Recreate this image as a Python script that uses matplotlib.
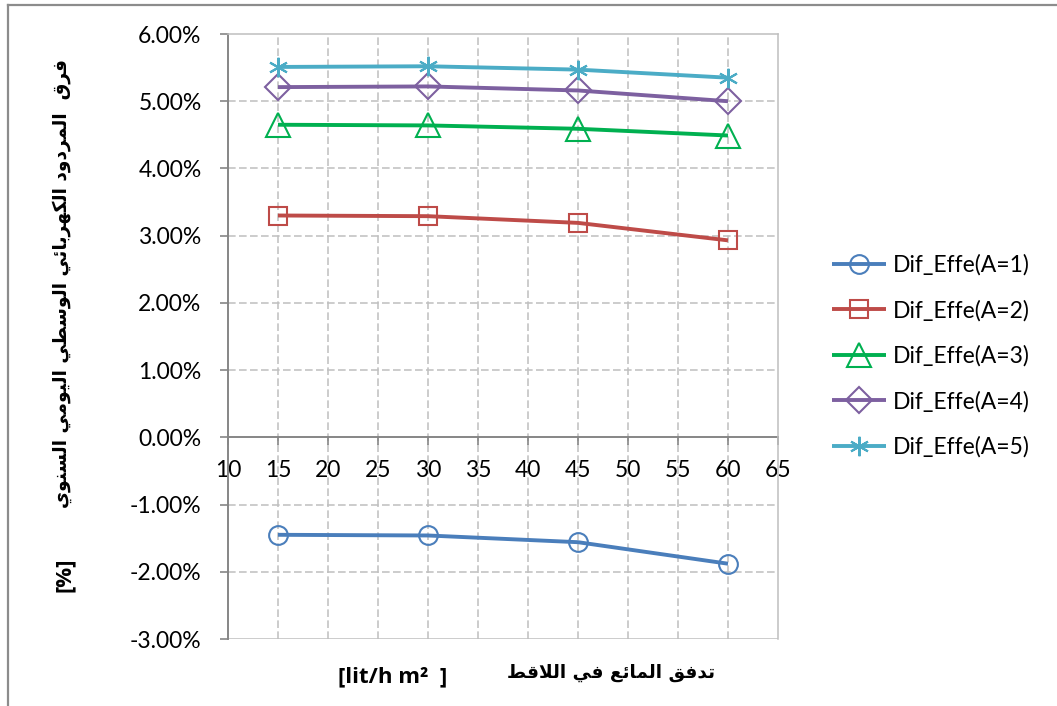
import matplotlib
matplotlib.use("Agg")
import matplotlib.pyplot as plt
from matplotlib.lines import Line2D
from matplotlib.ticker import FuncFormatter

# ---- data -------------------------------------------------------------
flow = [15, 30, 45, 60]
series_labels = ["Dif_Effe(A=1)", "Dif_Effe(A=2)", "Dif_Effe(A=3)",
                 "Dif_Effe(A=4)", "Dif_Effe(A=5)"]
dif_a1 = [-1.45, -1.46, -1.56, -1.88]
dif_a2 = [3.30, 3.29, 3.19, 2.93]
dif_a3 = [4.65, 4.64, 4.59, 4.49]
dif_a4 = [5.21, 5.22, 5.16, 5.00]
dif_a5 = [5.51, 5.52, 5.47, 5.35]
x_ticks = [10, 15, 20, 25, 30, 35, 40, 45, 50, 55, 60, 65]
y_ticks = [-3, -2, -1, 0, 1, 2, 3, 4, 5, 6]

y_title_ar = "فرق  المردود الكهربائي الوسطي اليومي السنوي"
y_title_unit = "[%]"
x_title_ar = "تدفق المائع في اللاقط"
x_title_unit = "[lit/h m²  ]"

# ---- minimal Arabic shaping (presentation forms, visual order) --------
_FORMS = {
    'ا': ('\uFE8D', '\uFE8E', None, None),
    'ب': ('\uFE8F', '\uFE90', '\uFE91', '\uFE92'),
    'ت': ('\uFE95', '\uFE96', '\uFE97', '\uFE98'),
    'د': ('\uFEA9', '\uFEAA', None, None),
    'ر': ('\uFEAD', '\uFEAE', None, None),
    'س': ('\uFEB1', '\uFEB2', '\uFEB3', '\uFEB4'),
    'ط': ('\uFEC1', '\uFEC2', '\uFEC3', '\uFEC4'),
    'ع': ('\uFEC9', '\uFECA', '\uFECB', '\uFECC'),
    'ف': ('\uFED1', '\uFED2', '\uFED3', '\uFED4'),
    'ق': ('\uFED5', '\uFED6', '\uFED7', '\uFED8'),
    'ك': ('\uFED9', '\uFEDA', '\uFEDB', '\uFEDC'),
    'ل': ('\uFEDD', '\uFEDE', '\uFEDF', '\uFEE0'),
    'م': ('\uFEE1', '\uFEE2', '\uFEE3', '\uFEE4'),
    'ن': ('\uFEE5', '\uFEE6', '\uFEE7', '\uFEE8'),
    'ه': ('\uFEE9', '\uFEEA', '\uFEEB', '\uFEEC'),
    'و': ('\uFEED', '\uFEEE', None, None),
    'ي': ('\uFEF1', '\uFEF2', '\uFEF3', '\uFEF4'),
    'ئ': ('\uFE89', '\uFE8A', '\uFE8B', '\uFE8C'),
}


def _joins_forward(c):
    return c in _FORMS and _FORMS[c][2] is not None


def shape_arabic(text):
    chars = list(text)
    n = len(chars)
    out = []
    i = 0
    while i < n:
        c = chars[i]
        if c not in _FORMS:
            out.append(c)
            i += 1
            continue
        link_prev = i > 0 and _joins_forward(chars[i - 1])
        if c == 'ل' and i + 1 < n and chars[i + 1] == 'ا':
            out.append('\uFEFC' if link_prev else '\uFEFB')
            i += 2
            continue
        link_next = _joins_forward(c) and i + 1 < n and chars[i + 1] in _FORMS
        iso, fin, ini, med = _FORMS[c]
        if link_prev and link_next:
            g = med
        elif link_prev:
            g = fin
        elif link_next:
            g = ini
        else:
            g = iso
        out.append(g)
        i += 1
    return ''.join(reversed(out))


# ---- figure -----------------------------------------------------------
W, H = 1057, 706
fig = plt.figure(figsize=(W / 100, H / 100), dpi=100)
fig.patch.set_facecolor("white")

TXT = ["Lato", "DejaVu Sans"]
BOLD = ["Open Sans", "DejaVu Sans"]
AR = ["DejaVu Sans"]
plt.rcParams["font.family"] = TXT

ax = fig.add_axes([228 / W, 1 - 639 / H, 550 / W, 605 / H])

colors = ["#4A7EBB", "#BE4B48", "#00B050", "#7D60A0", "#4BACC6"]
markers = ["o", "s", "^", "D", (6, 2, 0)]
msizes = [13.5, 13, 17.5, 13, 14]
series = [dif_a1, dif_a2, dif_a3, dif_a4, dif_a5]

for vals, lab, col, mk, ms in zip(series, series_labels, colors, markers, msizes):
    ax.plot(flow, vals, color=col, lw=2.8, marker=mk, ms=ms,
            markerfacecolor="none", markeredgecolor=col, markeredgewidth=1.5,
            label=lab, zorder=3, solid_capstyle="butt")

ax.set_xlim(10, 65)
ax.set_ylim(-3, 6)
ax.set_xticks(x_ticks)
ax.set_yticks(y_ticks)
ax.yaxis.set_major_formatter(FuncFormatter(lambda v, p: f"{v:.2f}%"))

grid_kw = dict(color="#BFBFBF", lw=1.1, ls=(0, (5, 2.2)), zorder=1)
for xv in x_ticks[1:-1]:
    ax.axvline(xv, **grid_kw)
for yv in y_ticks[1:-1]:
    if yv != 0:
        ax.axhline(yv, **grid_kw)
ax.axhline(-3, color="#BFBFBF", lw=1.1, zorder=1)

axis_gray = "#868686"
for s in ["top", "right"]:
    ax.spines[s].set_color("#BFBFBF")
    ax.spines[s].set_linewidth(1.1)
ax.spines["left"].set_color(axis_gray)
ax.spines["left"].set_linewidth(1.4)
ax.spines["bottom"].set_position(("data", 0))
ax.spines["bottom"].set_color(axis_gray)
ax.spines["bottom"].set_linewidth(1.4)
ax.spines["bottom"].set_zorder(2)

ax.tick_params(axis="y", direction="out", length=6, width=1.2, color=axis_gray,
               pad=13, labelsize=16.5)
ax.tick_params(axis="x", direction="out", length=5.5, width=1.2, color=axis_gray,
               pad=11, labelsize=16.5)

# ---- axis titles -----------------------------------------------------
fig.text(62 / W, 1 - 283 / H, shape_arabic(y_title_ar), rotation=90,
         ha="center", va="center", fontsize=13.4, fontweight="bold", family=AR)
fig.text(64 / W, 1 - 575 / H, y_title_unit, rotation=90,
         ha="center", va="center", fontsize=16, fontweight="bold", family=BOLD)

fig.text(611 / W, 1 - 673 / H, shape_arabic(x_title_ar),
         ha="center", va="center", fontsize=13.3, fontweight="bold", family=AR)
fig.text(393 / W, 1 - 677 / H, x_title_unit,
         ha="center", va="center", fontsize=16, fontweight="bold", family=BOLD)

# ---- legend ----------------------------------------------------------
leg = fig.legend(loc="center left", bbox_to_anchor=(832 / W, 1 - 356 / H),
                 frameon=False, fontsize=16.5, handlelength=2.36,
                 handletextpad=0.3, labelspacing=1.05, borderpad=0,
                 borderaxespad=0)

# ---- chart border ----------------------------------------------------
border = "#8C8C8C"
fig.add_artist(Line2D([8 / W, 8 / W], [0, 1 - 5 / H], color=border, lw=1.6,
                      transform=fig.transFigure))
fig.add_artist(Line2D([8 / W, 1], [1 - 5 / H, 1 - 5 / H], color=border, lw=1.6,
                      transform=fig.transFigure))

fig.savefig("out.png", dpi=100)
